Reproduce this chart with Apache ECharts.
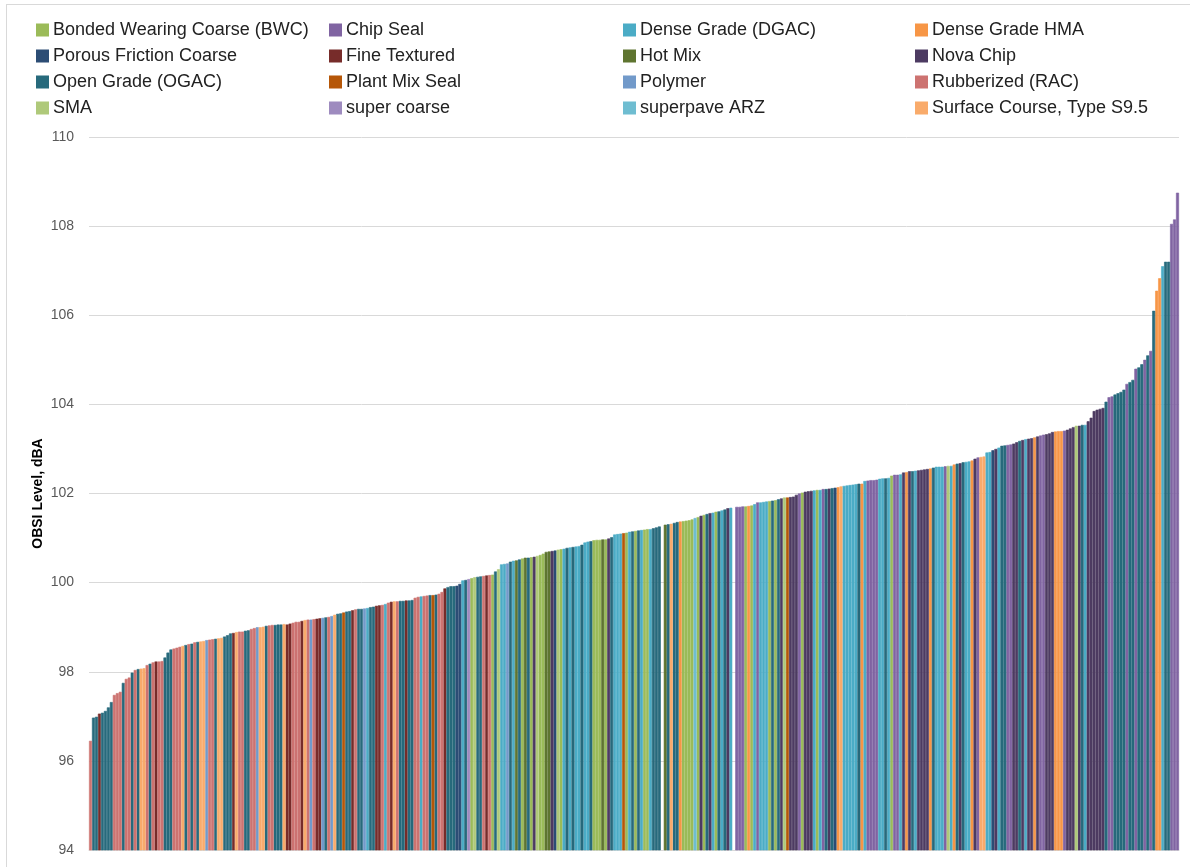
<!DOCTYPE html>
<html>
<head>
<meta charset="utf-8">
<script src="https://cdn.jsdelivr.net/npm/echarts@6/dist/echarts.min.js"></script>
<style>
html,body{margin:0;padding:0;background:#fff;}
#wrap{position:relative;width:1190px;height:867px;overflow:hidden;background:#fff;}
#frame{position:absolute;left:6px;top:4px;width:1300px;height:1000px;border:1px solid #D9D9D9;box-sizing:border-box;}
#chart{position:absolute;left:0;top:0;width:1190px;height:867px;}
</style>
</head>
<body>
<div id="wrap"><div id="frame"></div><div id="chart"></div></div>
<script>
// Surface types (series), in legend order (row-major, 4 columns)
const surfaceTypes = [
  'Bonded Wearing Coarse (BWC)', 'Chip Seal', 'Dense Grade (DGAC)', 'Dense Grade HMA',
  'Porous Friction Coarse', 'Fine Textured', 'Hot Mix', 'Nova Chip',
  'Open Grade (OGAC)', 'Plant Mix Seal', 'Polymer', 'Rubberized (RAC)',
  'SMA', 'super coarse', 'superpave ARZ', 'Surface Course, Type S9.5'
];
const surfaceKeys = ['A','B','C','D','E','F','G','H','I','J','K','L','M','N','O','P'];
const seriesColors = [
  '#9BBB59', '#8064A2', '#4BACC6', '#F79646',
  '#2C4D75', '#772C2A', '#5F7530', '#4D3B62',
  '#276A7C', '#B65708', '#729ACA', '#CD7371',
  '#AFC97A', '#9E8BBF', '#6FBDD1', '#F9AB6B'
];

// Surface type of each sorted section ('-' = empty slot)
const surfaceCode = (
  'LIIFIIIILLLILLILIPPLILFLLIIILLLPILILIPPKLLIPPIIIFPLLIILLKPPILLIIIP' +
  'FFLLLFPLKLFFKILKPIIJIIFLIIKCIIFFLCLFPLIIFIILLCLLIJILLFIIIEECINAMI' +
  'ILFLAIMCCKICGIAGIAHMAAGGHEMACICICCICCIAAAGAHICCCJACIAICAACIII' +
  '-GIPIIDAAAAOAHAIHCAICIHC-BBBADACBCCCAIAIHMJHHHBAHHHCACBIHIEDPCC' +
  'CCCIDCBBBBCCICABBCHDHICHHHHDICCCBMCDIHICCDHBPPCCEHCIIBBHHIHCHH' +
  'DHBBHHHDDDBHHHMHICHHHHHHIBBIIIIBIIBIIBIBIDDCIIBBB'
).split('');

// OBSI level (dBA) of each section, sorted ascending
const obsi = [
  96.45, 96.97, 96.99, 97.06, 97.08, 97.12, 97.2, 97.32, 97.48, 97.52, 97.55, 97.75, 97.84, 97.87, 97.98, 98.04,
  98.06, 98.07, 98.08, 98.15, 98.18, 98.21, 98.23, 98.23, 98.24, 98.32, 98.43, 98.5, 98.52, 98.54, 98.56, 98.58,
  98.6, 98.62, 98.63, 98.66, 98.67, 98.68, 98.69, 98.71, 98.72, 98.73, 98.74, 98.75, 98.76, 98.79, 98.82, 98.86,
  98.87, 98.89, 98.9, 98.9, 98.92, 98.93, 98.96, 98.98, 99.0, 99.0, 99.01, 99.03, 99.04, 99.05, 99.05, 99.06,
  99.06, 99.07,
  99.06, 99.08, 99.1, 99.12, 99.12, 99.14, 99.16, 99.17, 99.17, 99.18, 99.19, 99.2, 99.21, 99.22, 99.23, 99.25,
  99.28, 99.3, 99.31, 99.33, 99.35, 99.36, 99.38, 99.4, 99.41, 99.41, 99.42, 99.43, 99.45, 99.46, 99.48, 99.49,
  99.5, 99.52, 99.55, 99.57, 99.58, 99.58, 99.59, 99.59, 99.6, 99.6, 99.61, 99.66, 99.68, 99.69, 99.7, 99.71,
  99.72, 99.72, 99.73, 99.75, 99.79, 99.87, 99.9, 99.92, 99.92, 99.93, 99.97, 100.05, 100.06, 100.08, 100.1, 100.12,
  100.13,
  100.14, 100.15, 100.16, 100.17, 100.18, 100.25, 100.3, 100.41, 100.42, 100.43, 100.47, 100.49, 100.5, 100.52, 100.54, 100.56,
  100.56, 100.57, 100.58, 100.6, 100.62, 100.65, 100.69, 100.7, 100.71, 100.72, 100.74, 100.75, 100.76, 100.78, 100.79, 100.8,
  100.81, 100.82, 100.85, 100.9, 100.92, 100.93, 100.95, 100.96, 100.96, 100.97, 100.97, 100.99, 101.02, 101.08, 101.09, 101.1,
  101.11, 101.12, 101.14, 101.15, 101.16, 101.17, 101.18, 101.19, 101.2, 101.2, 101.22, 101.24, 101.26,
  null, 101.3, 101.31, 101.32, 101.34, 101.36, 101.37, 101.38, 101.39, 101.4, 101.42, 101.45, 101.47, 101.5, 101.52, 101.54,
  101.56, 101.57, 101.59, 101.6, 101.62, 101.64, 101.67, 101.68, null, 101.7, 101.7, 101.71, 101.71, 101.72, 101.73, 101.76,
  101.8, 101.8, 101.81, 101.82, 101.83, 101.84, 101.85, 101.87, 101.89, 101.91, 101.91, 101.92, 101.93, 101.97, 102.0, 102.02,
  102.04, 102.05, 102.06, 102.07, 102.08, 102.08, 102.1, 102.1, 102.11, 102.12, 102.13, 102.14, 102.16, 102.17, 102.18,
  102.19, 102.2, 102.21, 102.22, 102.22, 102.28, 102.29, 102.3, 102.3, 102.31, 102.33, 102.34, 102.34, 102.35, 102.4, 102.42,
  102.42, 102.43, 102.47, 102.48, 102.5, 102.5, 102.51, 102.52, 102.53, 102.54, 102.55, 102.56, 102.58, 102.6, 102.6, 102.6,
  102.61, 102.62, 102.62, 102.65, 102.67, 102.68, 102.7, 102.71, 102.72, 102.74, 102.78, 102.81, 102.82, 102.83, 102.92, 102.93,
  102.97, 103.0, 103.03, 103.07, 103.08, 103.09, 103.1, 103.12, 103.15, 103.18, 103.2, 103.22, 103.23, 103.24,
  103.26, 103.28, 103.3, 103.32, 103.33, 103.35, 103.38, 103.39, 103.4, 103.4, 103.41, 103.43, 103.46, 103.49, 103.52, 103.52,
  103.54, 103.54, 103.62, 103.7, 103.85, 103.88, 103.9, 103.92, 104.06, 104.16, 104.18, 104.22, 104.25, 104.28, 104.33, 104.46,
  104.5, 104.55, 104.8, 104.83, 104.9, 105.0, 105.1, 105.2, 106.1, 106.55, 106.83, 107.1, 107.2, 107.2, 108.05, 108.15,
  108.75
];

// Y axis ticks
const yTicks = { min: 94, max: 110, step: 2 };

const sectionIds = obsi.map((_, i) => String(i + 1));

const series = surfaceTypes.map((name, k) => ({
  name: name,
  type: 'bar',
  barGap: '-100%',
  barCategoryGap: 0,
  clip: true,
  animation: false,
  itemStyle: { color: seriesColors[k], borderColor: seriesColors[k], borderWidth: 0.6 },
  data: obsi.map((v, i) => (surfaceCode[i] === surfaceKeys[k] && v !== null) ? v : '-')
}));

const legendLefts = [31, 324, 618, 910];
const legends = [0, 1, 2, 3].map(c => ({
  orient: 'vertical',
  left: legendLefts[c],
  top: 15,
  icon: 'rect',
  itemWidth: 11,
  itemHeight: 11,
  itemGap: 6,
  selectedMode: false,
  data: [0, 1, 2, 3].map(r => surfaceTypes[r * 4 + c]),
  textStyle: { fontFamily: 'Liberation Sans', fontSize: 18, color: '#222', lineHeight: 20 }
}));

const chart = echarts.init(document.getElementById('chart'), null, { renderer: 'canvas' });
chart.setOption({
  animation: false,
  backgroundColor: 'transparent',
  legend: legends,
  grid: { left: 89, right: 11, top: 137, bottom: 17, containLabel: false },
  xAxis: {
    type: 'category',
    data: sectionIds,
    axisLabel: { show: false },
    axisTick: { show: false },
    axisLine: { show: true, lineStyle: { color: '#D9D9D9' } },
    splitLine: { show: false }
  },
  yAxis: {
    type: 'value',
    min: yTicks.min,
    max: yTicks.max,
    interval: yTicks.step,
    name: 'OBSI Level, dBA',
    nameLocation: 'middle',
    nameGap: 44,
    nameMoveOverlap: false,
    nameTextStyle: { fontFamily: 'Liberation Sans', fontSize: 14, fontWeight: 'bold', color: '#000' },
    axisLine: { show: false },
    axisTick: { show: false },
    axisLabel: { fontFamily: 'Liberation Sans', fontSize: 14, color: '#595959', margin: 15 },
    splitLine: { lineStyle: { color: '#D9D9D9', width: 1 } }
  },
  series: series
});
</script>
</body>
</html>
